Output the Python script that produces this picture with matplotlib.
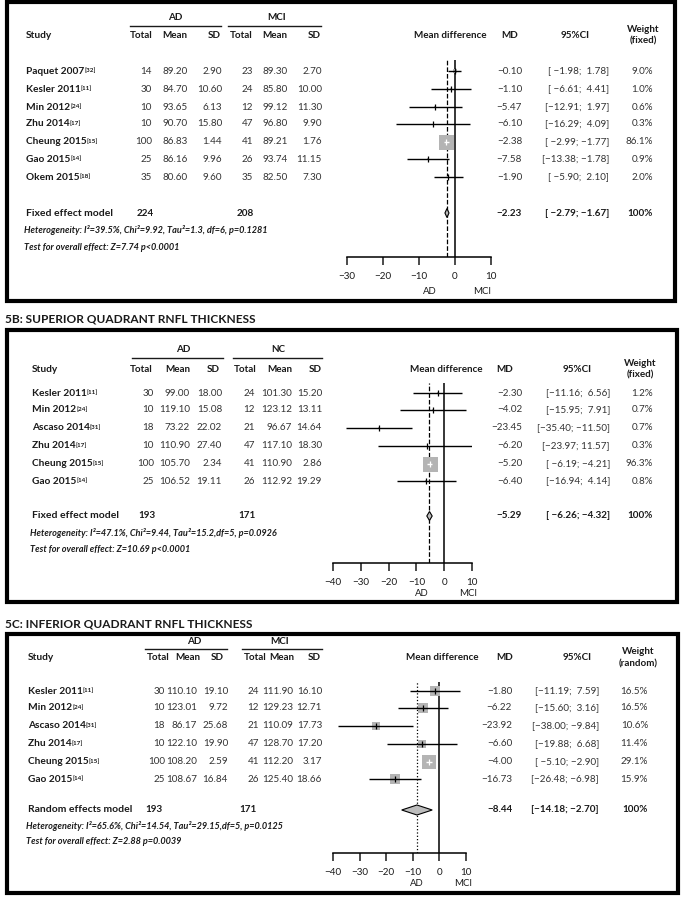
import matplotlib
matplotlib.use("Agg")
import matplotlib.pyplot as plt
from matplotlib.patches import Rectangle

plt.rcParams['font.family'] = ['Lato', 'DejaVu Sans']

W, H = 681, 897

# ---------------- panel A (average RNFL, AD vs MCI, fixed)
a_studies = ["Paquet 2007", "Kesler 2011", "Min 2012", "Zhu 2014", "Cheung 2015", "Gao 2015", "Okem 2015"]
a_refs = ["[32]", "[11]", "[24]", "[17]", "[15]", "[14]", "[18]"]
a_n1 = [14, 30, 10, 10, 100, 25, 35]
a_mean1 = [89.20, 84.70, 93.65, 90.70, 86.83, 86.16, 80.60]
a_sd1 = [2.90, 10.60, 6.13, 15.80, 1.44, 9.96, 9.60]
a_n2 = [23, 24, 12, 47, 41, 26, 35]
a_mean2 = [89.30, 85.80, 99.12, 96.80, 89.21, 93.74, 82.50]
a_sd2 = [2.70, 10.00, 11.30, 9.90, 1.76, 11.15, 7.30]
a_md = [-0.10, -1.10, -5.47, -6.10, -2.38, -7.58, -1.90]
a_lo = [-1.98, -6.61, -12.91, -16.29, -2.99, -13.38, -5.90]
a_hi = [1.78, 4.41, 1.97, 4.09, -1.77, -1.78, 2.10]
a_w = [9.0, 1.0, 0.6, 0.3, 86.1, 0.9, 2.0]
a_totals = [224, 208]
a_pooled = [-2.23, -2.79, -1.67]
a_groups = ["AD", "MCI"]
a_model = "Fixed effect model"
a_wlabel = "(fixed)"
a_het = "Heterogeneity: I\u00b2=39.5%, Chi\u00b2=9.92, Tau\u00b2=1.3, df=6, p=0.1281"
a_test = "Test for overall effect: Z=7.74 p<0.0001"
a_ticks = [-30, -20, -10, 0, 10]

# ---------------- panel B (superior quadrant)
b_title = "5B: SUPERIOR QUADRANT RNFL THICKNESS"
b_studies = ["Kesler 2011", "Min 2012", "Ascaso 2014", "Zhu 2014", "Cheung 2015", "Gao 2015"]
b_refs = ["[11]", "[24]", "[31]", "[17]", "[15]", "[14]"]
b_n1 = [30, 10, 18, 10, 100, 25]
b_mean1 = [99.00, 119.10, 73.22, 110.90, 105.70, 106.52]
b_sd1 = [18.00, 15.08, 22.02, 27.40, 2.34, 19.11]
b_n2 = [24, 12, 21, 47, 41, 26]
b_mean2 = [101.30, 123.12, 96.67, 117.10, 110.90, 112.92]
b_sd2 = [15.20, 13.11, 14.64, 18.30, 2.86, 19.29]
b_md = [-2.30, -4.02, -23.45, -6.20, -5.20, -6.40]
b_lo = [-11.16, -15.95, -35.40, -23.97, -6.19, -16.94]
b_hi = [6.56, 7.91, -11.50, 11.57, -4.21, 4.14]
b_w = [1.2, 0.7, 0.7, 0.3, 96.3, 0.8]
b_totals = [193, 171]
b_pooled = [-5.29, -6.26, -4.32]
b_groups = ["AD", "NC"]
b_model = "Fixed effect model"
b_wlabel = "(fixed)"
b_het = "Heterogeneity: I\u00b2=47.1%, Chi\u00b2=9.44, Tau\u00b2=15.2,df=5, p=0.0926"
b_test = "Test for overall effect: Z=10.69 p<0.0001"
b_ticks = [-40, -30, -20, -10, 0, 10]

# ---------------- panel C (inferior quadrant, random)
c_title = "5C: INFERIOR QUADRANT RNFL THICKNESS"
c_studies = ["Kesler 2011", "Min 2012", "Ascaso 2014", "Zhu 2014", "Cheung 2015", "Gao 2015"]
c_refs = ["[11]", "[24]", "[31]", "[17]", "[15]", "[14]"]
c_n1 = [30, 10, 18, 10, 100, 25]
c_mean1 = [110.10, 123.01, 86.17, 122.10, 108.20, 108.67]
c_sd1 = [19.10, 9.72, 25.68, 19.90, 2.59, 16.84]
c_n2 = [24, 12, 21, 47, 41, 26]
c_mean2 = [111.90, 129.23, 110.09, 128.70, 112.20, 125.40]
c_sd2 = [16.10, 12.71, 17.73, 17.20, 3.17, 18.66]
c_md = [-1.80, -6.22, -23.92, -6.60, -4.00, -16.73]
c_lo = [-11.19, -15.60, -38.00, -19.88, -5.10, -26.48]
c_hi = [7.59, 3.16, -9.84, 6.68, -2.90, -6.98]
c_w = [16.5, 16.5, 10.6, 11.4, 29.1, 15.9]
c_totals = [193, 171]
c_pooled = [-8.44, -14.18, -2.70]
c_groups = ["AD", "MCI"]
c_model = "Random effects model"
c_wlabel = "(random)"
c_het = "Heterogeneity: I\u00b2=65.6%, Chi\u00b2=14.54, Tau\u00b2=29.15,df=5, p=0.0125"
c_test = "Test for overall effect: Z=2.88 p=0.0039"
c_ticks = [-40, -30, -20, -10, 0, 10]

INK = '#1a1a1a'
NUM = '#333333'
GREY = '#b4b4b4'
FS = 7.1


def fmt(v):
    return f"{v:.2f}".replace("-", "\u2212")


def ci_text(lo, hi):
    return f"[{lo:6.2f}; {hi:5.2f}]".replace("-", "\u2212")


def draw_panel(fig, ax, d, L):
    # box
    x0, y0, x1, y1 = L['box']
    ax.add_patch(Rectangle((x0, y0), x1 - x0, y1 - y0, fill=False, lw=3, ec='black'))
    if d.get('title'):
        ax.text(5, L['title_y'], d['title'], fontsize=8.6, weight='bold', va='center', ha='left', color=INK)

    c = L['cols']
    # group headers + underlines
    gy = L['group_y']
    for g, cx, (u0, u1) in zip(d['groups'], L['group_x'], L['under']):
        ax.text(cx, gy, g, fontsize=FS, weight='bold', ha='center', va='center', color=INK)
        ax.plot([u0, u1], [gy + 8, gy + 8], color=INK, lw=1)
    hy = L['head_y']
    ax.text(L['study_x'], hy, "Study", fontsize=FS + 0.2, weight='bold', ha='left', va='center', color=INK)
    for lab, (x, ha) in zip(["Total", "Mean", "SD", "Total", "Mean", "SD"], L['head_cols']):
        ax.text(x, hy, lab, fontsize=FS, weight='bold', ha=ha, va='center', color=INK)
    ax.text(L['mdhead_x'], hy, "Mean difference", fontsize=FS, weight='bold', ha='center', va='center', color=INK)
    ax.text(L['md_hx'], hy, "MD", fontsize=FS, weight='bold', ha='center', va='center', color=INK)
    ax.text(L['ci_hx'], hy, "95%CI", fontsize=FS, weight='bold', ha='center', va='center', color=INK)
    ax.text(L['w_hx'], hy - 6, "Weight", fontsize=FS, weight='bold', ha='center', va='center', color=INK)
    ax.text(L['w_hx'], hy + 5.5, d['wlabel'], fontsize=FS, weight='bold', ha='center', va='center', color=INK)

    rows = L['rows']
    for i, y in enumerate(rows):
        t = ax.text(L['study_x'], y, d['studies'][i], fontsize=FS + 0.2, weight='bold', ha='left',
                    va='center', color=INK)
        ax.annotate(d['refs'][i], xy=(1.0, 0.95), xycoords=t, fontsize=4.6, weight='bold',
                    ha='left', va='top', color=INK)
        vals = [str(d['n1'][i]), fmt(d['mean1'][i]), fmt(d['sd1'][i]),
                str(d['n2'][i]), fmt(d['mean2'][i]), fmt(d['sd2'][i])]
        for v, x in zip(vals, c):
            ax.text(x, y, v, fontsize=FS, ha='right', va='center', color=NUM)
        ax.text(L['md_x'], y, fmt(d['md'][i]), fontsize=FS, ha='right', va='center', color=NUM)
        ax.text(L['ci_x'], y, ci_text(d['lo'][i], d['hi'][i]), fontsize=FS, ha='right', va='center', color=NUM)
        ax.text(L['w_x'], y, f"{d['w'][i]:.1f}%", fontsize=FS, ha='right', va='center', color=NUM)

    sy = L['sum_y']
    ax.text(L['study_x'], sy, d['model'], fontsize=FS + 0.4, weight='bold', ha='left', va='center', color=INK)
    ax.text(L['tot_x'][0], sy, str(d['totals'][0]), fontsize=FS, weight='bold', ha='right', va='center', color=INK)
    ax.text(L['tot_x'][1], sy, str(d['totals'][1]), fontsize=FS, weight='bold', ha='right', va='center', color=INK)
    pm, plo, phi = d['pooled']
    ax.text(L['md_x'], sy, fmt(pm), fontsize=FS, weight='bold', ha='right', va='center', color=INK)
    ax.text(L['ci_x'], sy, ci_text(plo, phi), fontsize=FS, weight='bold', ha='right', va='center', color=INK)
    ax.text(L['w_x'], sy, "100%", fontsize=FS, weight='bold', ha='right', va='center', color=INK)
    ax.text(L['study_x'] - 2, L['het_y'], d['het'], fontsize=6.6, weight='bold', style='italic',
            ha='left', va='center', color=INK)
    ax.text(L['study_x'] - 2, L['test_y'], d['test'], fontsize=6.6, weight='bold', style='italic',
            ha='left', va='center', color=INK)

    # forest plot axes in pixel rows
    fx0, fx1 = L['fx']
    ftop, faxis = L['fy']
    fax = fig.add_axes([fx0 / W, 1 - faxis / H, (fx1 - fx0) / W, (faxis - ftop) / H])
    fax.patch.set_alpha(0)
    lo_lim, hi_lim = d['ticks'][0], d['ticks'][-1]
    fax.set_xlim(lo_lim, hi_lim)
    fax.set_ylim(faxis, ftop)
    for s in ['top', 'left', 'right']:
        fax.spines[s].set_visible(False)
    fax.spines['bottom'].set_linewidth(1.1)
    fax.set_yticks([])
    fax.set_xticks(d['ticks'])
    fax.tick_params(axis='x', direction='out', length=6, width=1.1, pad=5, labelsize=FS, colors=INK)
    px_per_unit = (fx1 - fx0) / (hi_lim - lo_lim)

    fax.axvline(0, color='black', lw=1.1)
    fax.axvline(pm, color='black', lw=0.9, ls=L['pool_ls'])
    for i, y in enumerate(rows):
        side = L['sq_max'] * (d['w'][i] / max(d['w'])) ** 0.5
        half_units = side / 2 / px_per_unit
        inside = (d['hi'][i] - d['lo'][i]) / 2 < half_units
        col = 'white' if inside else 'black'
        fax.scatter([d['md'][i]], [y], marker='s', s=(side * 0.72) ** 2, color=GREY, lw=0, zorder=2)
        fax.plot([d['lo'][i], d['hi'][i]], [y, y], color=col, lw=1, zorder=3, solid_capstyle='butt')
        fax.plot([d['md'][i]], [y], marker='|', ms=4, mew=0.9, color=col, zorder=4)
    dh = L['dia_h']
    fax.fill([plo, pm, phi, pm], [sy, sy - dh, sy, sy + dh], facecolor='#bdbdbd', edgecolor='black',
             lw=0.8, zorder=4)
    ax.text(L['lab_x'][0], L['lab_y'], "AD", fontsize=FS - 0.2, ha='center', va='center', color=INK)
    ax.text(L['lab_x'][1], L['lab_y'], "MCI", fontsize=FS - 0.2, ha='center', va='center', color=INK)


fig = plt.figure(figsize=(W / 100, H / 100), dpi=100)
ax = fig.add_axes([0, 0, 1, 1])
ax.set_xlim(0, W)
ax.set_ylim(H, 0)
ax.axis('off')

panel_a = dict(studies=a_studies, refs=a_refs, n1=a_n1, mean1=a_mean1, sd1=a_sd1, n2=a_n2,
               mean2=a_mean2, sd2=a_sd2, md=a_md, lo=a_lo, hi=a_hi, w=a_w, totals=a_totals,
               pooled=a_pooled, groups=a_groups, model=a_model, wlabel=a_wlabel, het=a_het,
               test=a_test, ticks=a_ticks)
panel_b = dict(title=b_title, studies=b_studies, refs=b_refs, n1=b_n1, mean1=b_mean1, sd1=b_sd1,
               n2=b_n2, mean2=b_mean2, sd2=b_sd2, md=b_md, lo=b_lo, hi=b_hi, w=b_w,
               totals=b_totals, pooled=b_pooled, groups=b_groups, model=b_model, wlabel=b_wlabel,
               het=b_het, test=b_test, ticks=b_ticks)
panel_c = dict(title=c_title, studies=c_studies, refs=c_refs, n1=c_n1, mean1=c_mean1, sd1=c_sd1,
               n2=c_n2, mean2=c_mean2, sd2=c_sd2, md=c_md, lo=c_lo, hi=c_hi, w=c_w,
               totals=c_totals, pooled=c_pooled, groups=c_groups, model=c_model, wlabel=c_wlabel,
               het=c_het, test=c_test, ticks=c_ticks)

lay_a = dict(box=(7, 2, 675, 301), group_y=18, group_x=[175, 277], under=[(130, 221), (228, 321)],
             head_y=35, study_x=26,
             head_cols=[(153, 'right'), (175, 'center'), (221, 'right'), (253, 'right'), (275, 'center'), (321, 'right')],
             cols=[152, 188, 222, 253, 288, 322],
             mdhead_x=450, md_hx=510, ci_hx=575, w_hx=643, md_x=522, ci_x=609, w_x=653,
             rows=[71, 89, 107, 124, 142, 159, 177], sum_y=213, het_y=230, test_y=248,
             tot_x=[154, 254], fx=(347, 491), fy=(60, 257), pool_ls='--', sq_max=15, dia_h=4.5,
             lab_x=[430, 482], lab_y=291)
lay_b = dict(box=(7, 330, 677, 602), title_y=319, group_y=350, group_x=[183, 278],
             under=[(132, 223), (233, 322)], head_y=369, study_x=32,
             head_cols=[(153, 'right'), (178, 'center'), (220, 'right'), (257, 'right'), (280, 'center'), (322, 'right')],
             cols=[154, 190, 222, 255, 292, 322],
             mdhead_x=446, md_hx=505, ci_hx=577, w_hx=640, md_x=522, ci_x=610, w_x=653,
             rows=[393, 410, 428, 446, 464, 481], sum_y=516, het_y=533, test_y=550,
             tot_x=[155, 256], fx=(333, 472), fy=(383, 563), pool_ls='--', sq_max=15, dia_h=4.5,
             lab_x=[422, 468], lab_y=594)
lay_c = dict(box=(7, 634, 678, 893), title_y=624, group_y=641, group_x=[194, 280],
             under=[(145, 227), (242, 322)], head_y=658, study_x=28,
             head_cols=[(170, 'right'), (188, 'center'), (224, 'right'), (267, 'right'), (282, 'center'), (321, 'right')],
             cols=[165, 197, 228, 259, 293, 322],
             mdhead_x=442, md_hx=505, ci_hx=577, w_hx=638, md_x=512, ci_x=599, w_x=648,
             rows=[691, 708, 726, 744, 762, 779], sum_y=810, het_y=826, test_y=842,
             tot_x=[162, 257], fx=(333, 466), fy=(682, 853), pool_ls=':', sq_max=14, dia_h=5,
             lab_x=[417, 463], lab_y=884)

draw_panel(fig, ax, panel_a, lay_a)
draw_panel(fig, ax, panel_b, lay_b)
draw_panel(fig, ax, panel_c, lay_c)

fig.savefig("out.png", dpi=100)
